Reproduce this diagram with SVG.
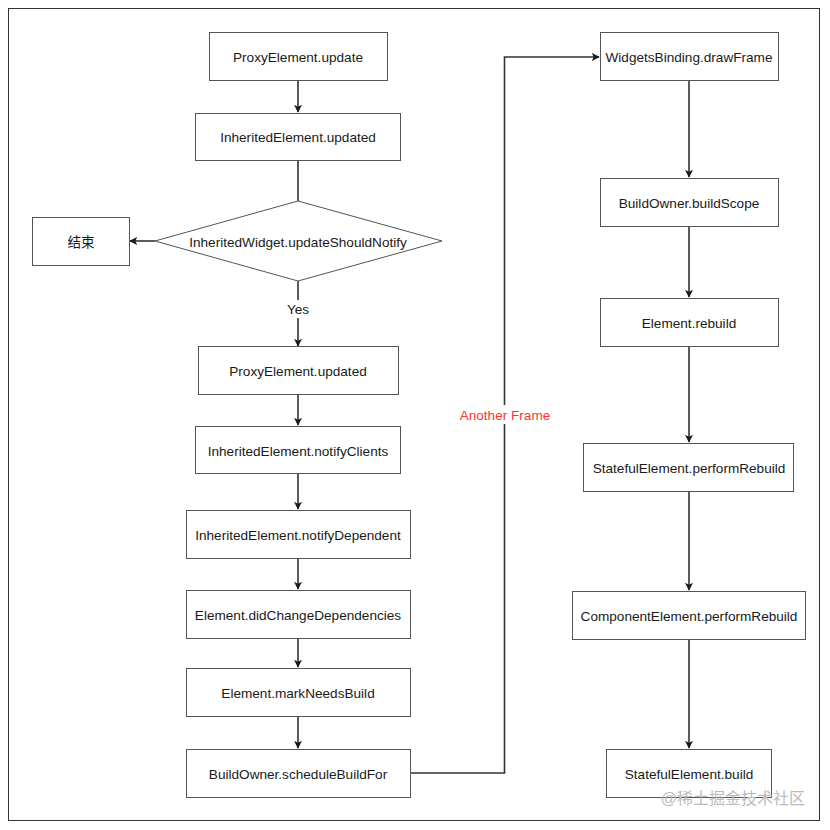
<svg xmlns="http://www.w3.org/2000/svg" width="830" height="830" viewBox="0 0 830 830">
<style>
.n{fill:#fff;stroke:#555;stroke-width:1}
.t{font-family:"Liberation Sans",Arial,"Noto Sans CJK SC",sans-serif;font-size:13.6px;fill:#1a1a1a;text-anchor:middle;dominant-baseline:central}
.c{fill:none;stroke:#333;stroke-width:1.6}
</style>
<defs>
<marker id="a" viewBox="0 0 10 10" refX="9" refY="5" markerWidth="8" markerHeight="8" markerUnits="userSpaceOnUse" orient="auto"><path d="M0,0 L10,5 L0,10 L2.5,5 Z" fill="#1a1a1a"/></marker>
</defs>
<rect x="0" y="0" width="830" height="830" fill="#fff"/>
<rect x="8.5" y="8.5" width="811" height="812" fill="#fff" stroke="#333" stroke-width="1"/>
<g id="connectors">
<path class="c" d="M298,80 V112" marker-end="url(#a)"/>
<path class="c" d="M298,161 V201"/>
<path class="c" d="M155,241 H130" marker-end="url(#a)"/>
<path class="c" d="M298,281 V300 M298,318 V346" marker-end="url(#a)"/>
<path class="c" d="M298,394 V425" marker-end="url(#a)"/>
<path class="c" d="M298,473 V509" marker-end="url(#a)"/>
<path class="c" d="M298,558 V589" marker-end="url(#a)"/>
<path class="c" d="M298,639 V667" marker-end="url(#a)"/>
<path class="c" d="M298,717 V748" marker-end="url(#a)"/>
<path class="c" d="M410,773 H504.5 V57 H599" marker-end="url(#a)"/>
<path class="c" d="M689,81 V177" marker-end="url(#a)"/>
<path class="c" d="M689,226 V297" marker-end="url(#a)"/>
<path class="c" d="M689,347 V442" marker-end="url(#a)"/>
<path class="c" d="M689,492 V590" marker-end="url(#a)"/>
<path class="c" d="M689,639 V748" marker-end="url(#a)"/>
<rect x="450" y="405" width="110" height="19" fill="#fff"/>
<text class="t" x="505" y="415" style="fill:#ff3333">Another Frame</text>
<rect x="285" y="300" width="26" height="18" fill="#fff"/>
<text class="t" x="298" y="309">Yes</text>
</g>
<g id="n1"><rect class="n" x="209.5" y="32.5" width="178" height="48"/><text class="t" x="298" y="57">ProxyElement.update</text></g>
<g id="n2"><rect class="n" x="195.5" y="113.5" width="205" height="47"/><text class="t" x="298" y="137">InheritedElement.updated</text></g>
<g id="n3"><polygon class="n" points="298,201 442,241 298,281 155,241"/><text class="t" x="298" y="242">InheritedWidget.updateShouldNotify</text></g>
<g id="n4"><rect class="n" x="32.5" y="217.5" width="97" height="48"/><text class="t" x="81" y="242">结束</text></g>
<g id="n5"><rect class="n" x="198.5" y="346.5" width="200" height="48"/><text class="t" x="298" y="371">ProxyElement.updated</text></g>
<g id="n6"><rect class="n" x="195.5" y="426.5" width="205" height="47"/><text class="t" x="298" y="451">InheritedElement.notifyClients</text></g>
<g id="n7"><rect class="n" x="186.5" y="510.5" width="224" height="48"/><text class="t" x="298" y="535">InheritedElement.notifyDependent</text></g>
<g id="n8"><rect class="n" x="186.5" y="590.5" width="224" height="48"/><text class="t" x="298" y="615">Element.didChangeDependencies</text></g>
<g id="n9"><rect class="n" x="186.5" y="668.5" width="224" height="48"/><text class="t" x="298" y="693">Element.markNeedsBuild</text></g>
<g id="n10"><rect class="n" x="186.5" y="749.5" width="224" height="48"/><text class="t" x="298" y="774">BuildOwner.scheduleBuildFor</text></g>
<g id="n11"><rect class="n" x="600.5" y="32.5" width="178" height="48"/><text class="t" x="689" y="57">WidgetsBinding.drawFrame</text></g>
<g id="n12"><rect class="n" x="600.5" y="178.5" width="178" height="48"/><text class="t" x="689" y="203">BuildOwner.buildScope</text></g>
<g id="n13"><rect class="n" x="600.5" y="298.5" width="178" height="48"/><text class="t" x="689" y="323">Element.rebuild</text></g>
<g id="n14"><rect class="n" x="583.5" y="443.5" width="210" height="48"/><text class="t" x="689" y="468">StatefulElement.performRebuild</text></g>
<g id="n15"><rect class="n" x="572.5" y="591.5" width="233" height="48"/><text class="t" x="689" y="616">ComponentElement.performRebuild</text></g>
<g id="n16"><rect class="n" x="606.5" y="749.5" width="165" height="48"/><text class="t" x="689" y="774">StatefulElement.build</text></g>
<text x="805" y="798" style="font-family:'Liberation Sans','Noto Sans CJK SC',sans-serif;font-size:16px;fill:#bbb;text-anchor:end;dominant-baseline:central">@稀土掘金技术社区</text>
</svg>
